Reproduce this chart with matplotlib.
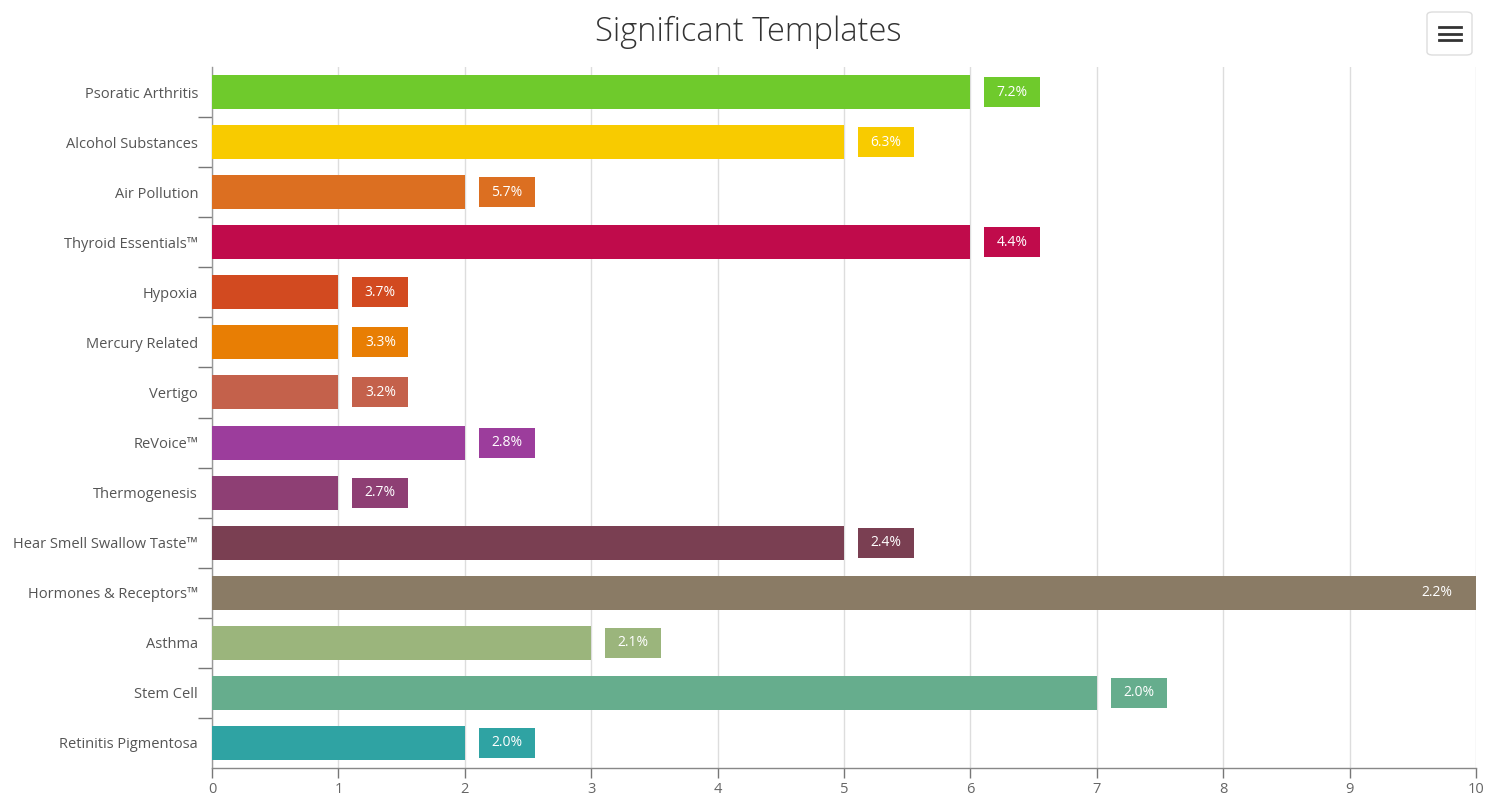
import matplotlib
matplotlib.use("Agg")
import matplotlib.pyplot as plt
from matplotlib.patches import Rectangle, FancyBboxPatch

categories = ["Psoratic Arthritis", "Alcohol Substances", "Air Pollution", "Thyroid Essentials™",
              "Hypoxia", "Mercury Related", "Vertigo", "ReVoice™", "Thermogenesis",
              "Hear Smell Swallow Taste™", "Hormones & Receptors™", "Asthma", "Stem Cell",
              "Retinitis Pigmentosa"]
values = [6, 5, 2, 6, 1, 1, 1, 2, 1, 5, 10, 3, 7, 2]
labels = ["7.2%", "6.3%", "5.7%", "4.4%", "3.7%", "3.3%", "3.2%", "2.8%", "2.7%",
          "2.4%", "2.2%", "2.1%", "2.0%", "2.0%"]
colors = ["#6fca2c", "#f8cb00", "#dc6f21", "#c00b4b", "#d24a20", "#e87e04", "#c4614b",
          "#9c3d9c", "#8e3f74", "#7a3f52", "#8a7b65", "#9bb57c", "#66ad8d", "#2fa3a3"]
x_ticks = list(range(0, 11))

plt.rcParams['font.family'] = ['Open Sans', 'DejaVu Sans']

W, H = 1498, 800
fig = plt.figure(figsize=(W / 100, H / 100), dpi=100)
left, right, top, bottom = 212, 1476, 67, 768
ax = fig.add_axes([left / W, 1 - bottom / H, (right - left) / W, (bottom - top) / H])

n = len(categories)
ypos = list(range(n))
ax.barh(ypos, values, height=0.68, color=colors, zorder=3)

ax.set_xlim(0, 10)
ax.set_ylim(n - 0.5, -0.5)

px = 10 / (right - left)
for i, (v, lab, c) in enumerate(zip(values, labels, colors)):
    if v >= 10:
        ax.text(v - 24 * px, i, lab, ha='right', va='center', color='white',
                fontsize=10, zorder=5)
    else:
        x0 = v + 14 * px
        wbox = 56 * px
        ax.add_patch(Rectangle((x0, i - 0.3), wbox, 0.6, color=c, zorder=4, lw=0))
        ax.text(x0 + wbox / 2, i, lab, ha='center', va='center', color='white',
                fontsize=10, zorder=5)

ax.set_xticks(x_ticks)
ax.set_xticklabels([str(t) for t in x_ticks])
ax.set_yticks(ypos)
ax.set_yticklabels(categories)
ax.set_yticks([i + 0.5 for i in range(n - 1)], minor=True)

ax.tick_params(axis='y', which='major', length=0, pad=10, labelsize=10.5, labelcolor='#555555')
ax.tick_params(axis='y', which='minor', length=10, color='#777777', width=1)
ax.tick_params(axis='x', which='major', length=7, color='#777777', width=1, pad=3,
               labelsize=10.5, labelcolor='#666666')

ax.grid(axis='x', color='#dddddd', linewidth=1, zorder=0)
ax.set_axisbelow(True)
for s in ['top', 'right']:
    ax.spines[s].set_visible(False)
ax.spines['left'].set_color('#999999')
ax.spines['bottom'].set_color('#888888')
ax.spines['left'].set_linewidth(1)
ax.spines['bottom'].set_linewidth(1)

fig.text(748 / W, 1 - 32 / H, "Significant Templates", ha='center', va='center',
         fontsize=23.5, color='#333333', fontweight='light')

# menu button
bx0, by0, bw, bh = 1427, 12, 45, 43
fig.patches.append(FancyBboxPatch((bx0 / W, 1 - (by0 + bh) / H), bw / W, bh / H,
                                  boxstyle="round,pad=0,rounding_size=0.004",
                                  transform=fig.transFigure, facecolor='white',
                                  edgecolor='#dddddd', linewidth=1))
for dy in [27, 33.5, 40]:
    fig.add_artist(plt.Line2D([1439 / W, 1461 / W], [1 - (dy) / H] * 2,
                              color='#333333', linewidth=2, transform=fig.transFigure))

fig.savefig("out.png", dpi=100)
